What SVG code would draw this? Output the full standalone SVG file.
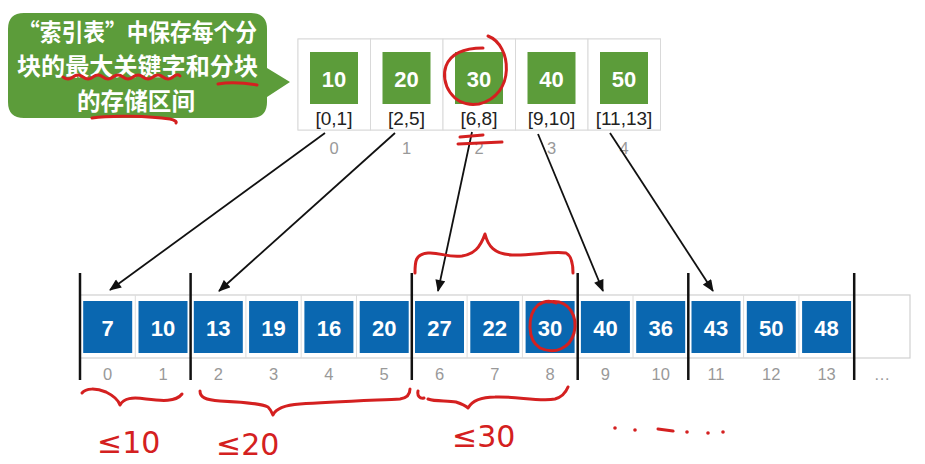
<svg xmlns="http://www.w3.org/2000/svg" width="925" height="464" viewBox="0 0 925 464">
<defs>
<marker id="ah" viewBox="0 0 12 10" refX="11" refY="5" markerWidth="13" markerHeight="10" markerUnits="userSpaceOnUse" orient="auto">
<path d="M0,0 L12,5 L0,10 Z" fill="#111"/>
</marker>
</defs>
<style>
.cellT{fill:#fff;stroke:#d9d9d9;stroke-width:1}
.gsq{fill:#5c9c3a}
.bsq{fill:#0a67b0}
.num{font-family:"Liberation Sans",Arial,sans-serif;font-weight:bold;font-size:22px;fill:#fff;text-anchor:middle}
.rng{font-family:"Liberation Sans",Arial,sans-serif;font-size:19px;fill:#222;text-anchor:middle}
.idx{font-family:"Liberation Sans",Arial,sans-serif;font-size:16.5px;fill:#999;text-anchor:middle}
.bub{font-family:"Noto Sans CJK SC","Noto Sans",sans-serif;font-weight:bold;font-size:24px;fill:#fff;text-anchor:middle}
.sep{stroke:#111;stroke-width:2.5}
.arr{stroke:#111;stroke-width:1.8;fill:none;marker-end:url(#ah)}
.red{stroke:#d42020;stroke-width:3;fill:none;stroke-linecap:round;stroke-linejoin:round}
.redt{font-family:"DejaVu Sans",sans-serif;font-size:30px;fill:#d42020}
</style>
<rect width="925" height="464" fill="#fff"/>

<g id="bubble">
<path d="M24,13 H251 Q267,13 267,29 V68 L290,82 L267,97 V102 Q267,118 251,118 H24 Q8,118 8,102 V29 Q8,13 24,13 Z" fill="#5c9c3a"/>
<text class="bub" x="137.5" y="41" textLength="239" lengthAdjust="spacingAndGlyphs">“索引表”中保存每个分</text>
<text class="bub" x="137.5" y="75" textLength="241" lengthAdjust="spacingAndGlyphs">块的最大关键字和分块</text>
<text class="bub" x="136" y="110" textLength="118" lengthAdjust="spacingAndGlyphs">的存储区间</text>
</g>

<g id="index-table">
<rect class="cellT" x="298" y="39" width="362.5" height="91"/>
<g id="idx0"><rect class="cellT" x="298" y="39" width="72.5" height="91"/><rect class="gsq" x="310" y="52" width="48" height="52"/><text class="num" x="334" y="87">10</text><text class="rng" x="334" y="125">[0,1]</text><text class="idx" x="334" y="154">0</text></g>
<g id="idx1"><rect class="cellT" x="370.5" y="39" width="72.5" height="91"/><rect class="gsq" x="382.5" y="52" width="48" height="52"/><text class="num" x="406.5" y="87">20</text><text class="rng" x="406.5" y="125">[2,5]</text><text class="idx" x="406.5" y="154">1</text></g>
<g id="idx2"><rect class="cellT" x="443" y="39" width="72.5" height="91"/><rect class="gsq" x="455" y="52" width="48" height="52"/><text class="num" x="479" y="87">30</text><text class="rng" x="479" y="125">[6,8]</text><text class="idx" x="479" y="154">2</text></g>
<g id="idx3"><rect class="cellT" x="515.5" y="39" width="72.5" height="91"/><rect class="gsq" x="527.5" y="52" width="48" height="52"/><text class="num" x="551.5" y="87">40</text><text class="rng" x="551.5" y="125">[9,10]</text><text class="idx" x="551.5" y="154">3</text></g>
<g id="idx4"><rect class="cellT" x="588" y="39" width="72.5" height="91"/><rect class="gsq" x="600" y="52" width="48" height="52"/><text class="num" x="624" y="87">50</text><text class="rng" x="624" y="125">[11,13]</text><text class="idx" x="624" y="154">4</text></g>
</g>

<g id="array">
<rect x="80" y="295" width="830" height="63" fill="#fff" stroke="#d0d0d0" stroke-width="1.2"/>
<g stroke="#dcdcdc" stroke-width="1">
<line x1="135.3" y1="295" x2="135.3" y2="358"/><line x1="190.6" y1="295" x2="190.6" y2="358"/><line x1="245.9" y1="295" x2="245.9" y2="358"/><line x1="301.2" y1="295" x2="301.2" y2="358"/><line x1="356.5" y1="295" x2="356.5" y2="358"/><line x1="411.8" y1="295" x2="411.8" y2="358"/><line x1="467.1" y1="295" x2="467.1" y2="358"/><line x1="522.4" y1="295" x2="522.4" y2="358"/><line x1="577.7" y1="295" x2="577.7" y2="358"/><line x1="633" y1="295" x2="633" y2="358"/><line x1="688.3" y1="295" x2="688.3" y2="358"/><line x1="743.6" y1="295" x2="743.6" y2="358"/><line x1="798.9" y1="295" x2="798.9" y2="358"/><line x1="854.2" y1="295" x2="854.2" y2="358"/>
</g>
<g id="a0"><rect class="bsq" x="83.2" y="301" width="49" height="52"/><text class="num" x="107.7" y="336">7</text><text class="idx" x="107.7" y="380">0</text></g>
<g id="a1"><rect class="bsq" x="138.5" y="301" width="49" height="52"/><text class="num" x="163" y="336">10</text><text class="idx" x="163" y="380">1</text></g>
<g id="a2"><rect class="bsq" x="193.8" y="301" width="49" height="52"/><text class="num" x="218.3" y="336">13</text><text class="idx" x="218.3" y="380">2</text></g>
<g id="a3"><rect class="bsq" x="249.1" y="301" width="49" height="52"/><text class="num" x="273.6" y="336">19</text><text class="idx" x="273.6" y="380">3</text></g>
<g id="a4"><rect class="bsq" x="304.4" y="301" width="49" height="52"/><text class="num" x="328.9" y="336">16</text><text class="idx" x="328.9" y="380">4</text></g>
<g id="a5"><rect class="bsq" x="359.7" y="301" width="49" height="52"/><text class="num" x="384.2" y="336">20</text><text class="idx" x="384.2" y="380">5</text></g>
<g id="a6"><rect class="bsq" x="415" y="301" width="49" height="52"/><text class="num" x="439.5" y="336">27</text><text class="idx" x="439.5" y="380">6</text></g>
<g id="a7"><rect class="bsq" x="470.3" y="301" width="49" height="52"/><text class="num" x="494.8" y="336">22</text><text class="idx" x="494.8" y="380">7</text></g>
<g id="a8"><rect class="bsq" x="525.6" y="301" width="49" height="52"/><text class="num" x="550.1" y="336">30</text><text class="idx" x="550.1" y="380">8</text></g>
<g id="a9"><rect class="bsq" x="580.9" y="301" width="49" height="52"/><text class="num" x="605.4" y="336">40</text><text class="idx" x="605.4" y="380">9</text></g>
<g id="a10"><rect class="bsq" x="636.2" y="301" width="49" height="52"/><text class="num" x="660.7" y="336">36</text><text class="idx" x="660.7" y="380">10</text></g>
<g id="a11"><rect class="bsq" x="691.5" y="301" width="49" height="52"/><text class="num" x="716" y="336">43</text><text class="idx" x="716" y="380">11</text></g>
<g id="a12"><rect class="bsq" x="746.8" y="301" width="49" height="52"/><text class="num" x="771.3" y="336">50</text><text class="idx" x="771.3" y="380">12</text></g>
<g id="a13"><rect class="bsq" x="802.1" y="301" width="49" height="52"/><text class="num" x="826.6" y="336">48</text><text class="idx" x="826.6" y="380">13</text></g>
<text class="idx" x="882" y="380">…</text>
</g>

<g id="separators">
<line class="sep" x1="80" y1="273" x2="80" y2="380"/>
<line class="sep" x1="190.6" y1="273" x2="190.6" y2="380"/>
<line class="sep" x1="411.8" y1="273" x2="411.8" y2="380"/>
<line class="sep" x1="577.7" y1="273" x2="577.7" y2="380"/>
<line class="sep" x1="688.3" y1="273" x2="688.3" y2="380"/>
<line class="sep" x1="854.2" y1="273" x2="854.2" y2="380"/>
</g>

<g id="connectors">
<line class="arr" x1="325" y1="133" x2="110" y2="290"/>
<line class="arr" x1="395" y1="133" x2="219" y2="291"/>
<line class="arr" x1="472" y1="132" x2="438" y2="291"/>
<line class="arr" x1="538" y1="134" x2="603" y2="291"/>
<line class="arr" x1="610" y1="133" x2="713" y2="291"/>
</g>

<g id="annotations">
<path class="red" d="M63,77 q5,4 10,0 t10,0 t10,0 t10,0 t10,0 t10,0 t10,0 t10,0 t10,0 t10,0 t10,0 t7,-1"/>
<path class="red" d="M218,84 C230,82 245,83 257,85"/>
<path class="red" d="M92,118 C110,115 150,116 170,119 C175,120 177,122 176,123"/>
<path class="red" d="M488,36 C512,45 516,95 479,104 C452,108 440,82 446,66 C451,53 465,48 483,48"/>
<path class="red" d="M460,137 L483,135 M458,144 L502,142"/>
<path class="red" d="M415,273 C415,262 415,254 428,253 C440,252 448,258 462,256 C474,254 480,248 485,234 C488,246 494,254 512,255 C530,256 550,251 566,253 C572,256 573,264 573,273"/>
<path class="red" d="M548,302 C570,298 578,318 574,333 C570,348 555,355 540,348 C527,340 527,315 538,305 C545,300 552,301 556,303"/>
<path class="red" d="M82,393 C86,388 96,388 106,392 C112,395 118,399 120,405 C124,398 132,397 146,399 C162,401 176,402 182,394"/>
<path class="red" d="M200,391 C200,397 205,400 220,401 C240,402 260,403 268,407 C271,410 272,413 273,415 C276,408 285,405 300,404 C330,402 380,400 400,399 C407,398 410,394 410,389"/>
<path class="red" d="M418,391 C417,396 420,399 424,398 M428,399 C436,402 448,400 456,402 C462,404 466,406 468,408 C472,401 480,397 495,397 C515,396 540,402 555,399 C562,397 566,392 568,387"/>
<text class="redt" x="97" y="453">≤10</text>
<text class="redt" x="216" y="455">≤20</text>
<text class="redt" x="452" y="447">≤30</text>
<g fill="#d42020"><circle cx="615" cy="428" r="1.8"/><circle cx="635" cy="430" r="1.8"/><circle cx="687" cy="432" r="1.8"/><circle cx="708" cy="433" r="1.8"/><circle cx="723" cy="432" r="1.8"/></g>
<path class="red" d="M658,429 L673,431"/>
</g>
</svg>
